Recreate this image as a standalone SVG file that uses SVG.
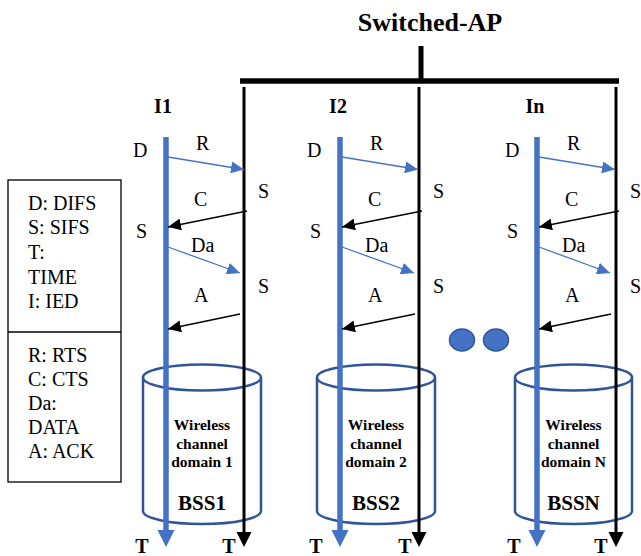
<svg xmlns="http://www.w3.org/2000/svg" width="641" height="556" viewBox="0 0 641 556">
<style>
.t{font-family:"Liberation Serif","Times New Roman",serif;fill:#000}
.lbl{font-size:20px}
.b{font-weight:bold}
.blue{stroke:#4472C4;stroke-width:5.5;fill:none}
.blk{stroke:#000;stroke-width:3;fill:none}
.ab{stroke:#4472C4;stroke-width:1.3;fill:none}
.ak{stroke:#000;stroke-width:1.3;fill:none}
.cyl{stroke:#2F5597;stroke-width:2.5;fill:none}
.dot{fill:#4472C4;stroke:#2F5597;stroke-width:1.5}
</style>
<defs>
<marker id="mb" markerUnits="userSpaceOnUse" markerWidth="14" markerHeight="12" refX="13" refY="6" orient="auto"><path d="M0,0 L13,6 L0,12 Z" fill="#4472C4"/></marker>
<marker id="mk" markerUnits="userSpaceOnUse" markerWidth="14" markerHeight="12" refX="13" refY="6" orient="auto"><path d="M0,0 L13,6 L0,12 Z" fill="#000"/></marker>
</defs>
<rect width="641" height="556" fill="#fff"/>

<g id="title">
<text class="t b" x="430" y="31" font-size="26" text-anchor="middle">Switched-AP</text>
</g>

<g id="legend">
<rect x="8" y="180" width="113" height="302" fill="none" stroke="#000" stroke-width="1.3"/>
<line x1="8" y1="332" x2="121" y2="332" stroke="#000" stroke-width="1.3"/>
<g class="t lbl">
<text x="28" y="210">D: DIFS</text>
<text x="28" y="234">S: SIFS</text>
<text x="28" y="259">T:</text>
<text x="28" y="284">TIME</text>
<text x="28" y="308">I: IED</text>
<text x="28" y="362">R: RTS</text>
<text x="28" y="386">C: CTS</text>
<text x="28" y="410">Da:</text>
<text x="28" y="434">DATA</text>
<text x="28" y="458">A: ACK</text>
</g>
</g>

<g id="bss1">
<ellipse class="cyl" cx="202" cy="377.5" rx="59" ry="13"/>
<path class="cyl" d="M143,377.5 V511 A59,13 0 0 0 261,511 V377.5"/>
<g class="t b" text-anchor="middle" font-size="15.5">
<text x="202" y="430">Wireless</text>
<text x="202" y="449">channel</text>
<text x="202" y="467">domain 1</text>
<text x="202" y="510" font-size="21">BSS1</text>
</g>
</g>
<g id="bss2">
<ellipse class="cyl" cx="376" cy="377.5" rx="59" ry="13"/>
<path class="cyl" d="M317,377.5 V511 A59,13 0 0 0 435,511 V377.5"/>
<g class="t b" text-anchor="middle" font-size="15.5">
<text x="376" y="430">Wireless</text>
<text x="376" y="449">channel</text>
<text x="376" y="467">domain 2</text>
<text x="376" y="510" font-size="21">BSS2</text>
</g>
</g>
<g id="bssn">
<ellipse class="cyl" cx="573.5" cy="377.5" rx="58.5" ry="13"/>
<path class="cyl" d="M515,377.5 V511 A58.5,13 0 0 0 632,511 V377.5"/>
<g class="t b" text-anchor="middle" font-size="15.5">
<text x="573.5" y="430">Wireless</text>
<text x="573.5" y="449">channel</text>
<text x="573.5" y="467">domain N</text>
<text x="573.5" y="510" font-size="21">BSSN</text>
</g>
</g>

<g id="ap">
<line x1="421" y1="46" x2="421" y2="81" stroke="#000" stroke-width="5"/>
<line x1="240" y1="81" x2="619" y2="81" stroke="#000" stroke-width="5.5"/>
</g>

<g id="ied1">
<text class="t b" x="163" y="113" font-size="20" text-anchor="middle">I1</text>
<line class="blue" x1="166" y1="137" x2="166" y2="532"/>
<path d="M157.5,530 L174.5,530 L166,547 Z" fill="#4472C4"/>
<line class="blk" x1="244" y1="87" x2="244" y2="533"/>
<path d="M236.5,532 L251.5,532 L244,547 Z" fill="#000"/>
<g class="t lbl">
<text x="133" y="157">D</text>
<text x="196" y="150">R</text>
<text x="258" y="198">S</text>
<text x="194" y="206">C</text>
<text x="136" y="238">S</text>
<text x="191" y="252">Da</text>
<text x="258" y="293">S</text>
<text x="194" y="302">A</text>
<text x="142" y="553" class="b" text-anchor="middle">T</text>
<text x="229" y="553" class="b" text-anchor="middle">T</text>
</g>
</g>

<g id="ied2">
<text class="t b" x="338" y="113" font-size="20" text-anchor="middle">I2</text>
<line class="blue" x1="340" y1="137" x2="340" y2="532"/>
<path d="M331.5,530 L348.5,530 L340,547 Z" fill="#4472C4"/>
<line class="blk" x1="419" y1="87" x2="419" y2="533"/>
<path d="M411.5,532 L426.5,532 L419,547 Z" fill="#000"/>
<g class="t lbl">
<text x="307" y="157">D</text>
<text x="370" y="150">R</text>
<text x="433" y="198">S</text>
<text x="368" y="206">C</text>
<text x="310" y="238">S</text>
<text x="365" y="252">Da</text>
<text x="433" y="293">S</text>
<text x="368" y="302">A</text>
<text x="316" y="553" class="b" text-anchor="middle">T</text>
<text x="405" y="553" class="b" text-anchor="middle">T</text>
</g>
</g>

<g id="iedn">
<text class="t b" x="535" y="113" font-size="20" text-anchor="middle">In</text>
<line class="blue" x1="537" y1="137" x2="537" y2="532"/>
<path d="M528.5,530 L545.5,530 L537,547 Z" fill="#4472C4"/>
<line class="blk" x1="616" y1="87" x2="616" y2="533"/>
<path d="M608.5,532 L623.5,532 L616,547 Z" fill="#000"/>
<g class="t lbl">
<text x="505" y="157">D</text>
<text x="567" y="150">R</text>
<text x="630" y="198">S</text>
<text x="565" y="206">C</text>
<text x="507" y="238">S</text>
<text x="562" y="252">Da</text>
<text x="630" y="293">S</text>
<text x="565" y="302">A</text>
<text x="514" y="553" class="b" text-anchor="middle">T</text>
<text x="601" y="553" class="b" text-anchor="middle">T</text>
</g>
</g>

<g id="dots">
<ellipse class="dot" cx="462" cy="340" rx="12.5" ry="11"/>
<ellipse class="dot" cx="496" cy="340" rx="12.5" ry="11"/>
</g>

<g id="connectors">
<line class="ab" x1="168" y1="157" x2="244" y2="169.5" marker-end="url(#mb)"/>
<line class="ak" x1="247" y1="211" x2="168" y2="227" marker-end="url(#mk)"/>
<line class="ab" x1="168" y1="247" x2="240" y2="273" marker-end="url(#mb)"/>
<line class="ak" x1="240" y1="314" x2="168" y2="329" marker-end="url(#mk)"/>

<line class="ab" x1="342" y1="157" x2="418" y2="169.5" marker-end="url(#mb)"/>
<line class="ak" x1="422" y1="211" x2="342" y2="227" marker-end="url(#mk)"/>
<line class="ab" x1="342" y1="247" x2="414" y2="273" marker-end="url(#mb)"/>
<line class="ak" x1="415" y1="314" x2="342" y2="329" marker-end="url(#mk)"/>

<line class="ab" x1="539" y1="157" x2="615" y2="169.5" marker-end="url(#mb)"/>
<line class="ak" x1="619" y1="211" x2="539" y2="227" marker-end="url(#mk)"/>
<line class="ab" x1="539" y1="247" x2="610" y2="273" marker-end="url(#mb)"/>
<line class="ak" x1="611" y1="314" x2="539" y2="329" marker-end="url(#mk)"/>
</g>
</svg>
